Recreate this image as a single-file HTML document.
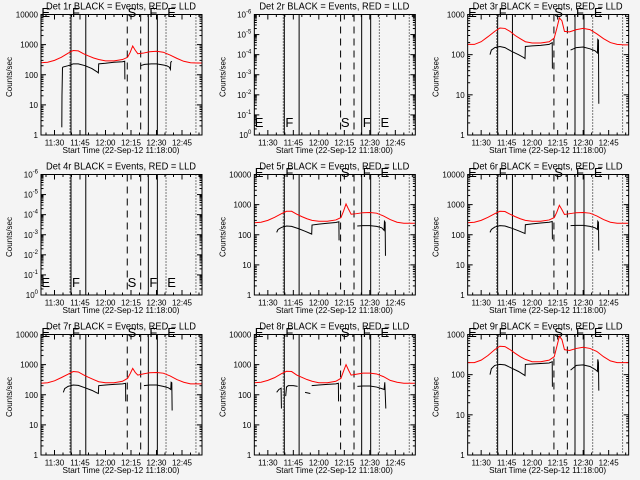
<!DOCTYPE html>
<html><head><meta charset="utf-8"><style>
html,body{margin:0;padding:0;background:#f4f4f4;}
svg{display:block;font-family:"Liberation Sans",sans-serif;}
</style></head><body>
<svg id="chart" width="640" height="480" viewBox="0 0 640 480" xmlns="http://www.w3.org/2000/svg">
<rect x="0" y="0" width="640" height="480" fill="#f4f4f4"/>
</svg>
<script>
// ---- data (minutes after 11:00) ----
const xTickMinutes = [30,45,60,75,90,105];
const xTickLabels = ["11:30","11:45","12:00","12:15","12:30","12:45"];
const solidLines = [39.7,48.4,85.2,90.5];
const dashedLines = [72.8,80.7];
const dottedLines = [39.1,95.6,113.2];
const phaseLetters = ["E","F","S","F","E"];
const phaseLetterMinutes = [22.3,40.3,73.0,85.8,96.3];
const redT = [22,26,30,34,38,41,44,47,50,53,56,60,65,70,73,74.5,76,77.5,79,82,86,90,94,98,102,106,110,114,116.5];
const red1 = [250,260,300,380,520,640,620,500,420,360,320,290,290,320,380,550,900,650,500,520,580,600,560,450,350,280,250,245,245];
const red3 = [180,180,210,280,380,460,450,380,300,250,210,195,195,210,260,450,820,700,380,370,420,450,420,330,250,200,180,175,175];
const red5 = [250,260,300,380,500,600,600,480,400,340,300,280,280,310,370,600,1050,700,480,500,540,550,520,420,320,260,240,240,240];
const red6 = [250,260,300,380,500,600,590,480,400,340,300,280,280,310,370,560,950,680,470,500,540,550,520,420,320,260,240,240,240];
const red7 = [240,250,290,370,480,590,570,460,380,320,270,250,250,280,350,500,750,550,450,490,540,550,520,420,320,260,230,230,230];
const red8 = [250,260,300,370,500,600,590,450,380,320,280,250,250,280,350,600,1000,650,450,480,520,520,490,400,300,260,240,240,240];
const red9 = [200,200,230,300,420,510,500,420,340,280,240,210,210,230,280,500,900,750,420,400,450,480,450,380,280,220,200,200,200];
const b1T = [34.3,34.4,34.7,35,38,41,44,48,52,55,55.8,56,60,65,70,71.3,71.4,76,80.5,83,87,90,94,96,97.5,98.2,98.4,99];
const b1V = [1.8,20,170,180,200,230,230,200,160,125,115,230,240,260,270,280,70,null,200,220,230,230,210,200,180,150,260,280];
const bT = [35.2,36,38,41,44,48,52,55,55.8,56,60,65,70,71.8,71.9,76,82.6,86,90,94,97,98.4,98.6,99,99.2];
const b3V = [100,130,150,160,150,120,100,85,80,160,165,170,180,200,45,null,130,150,155,140,125,110,240,230,6];
const b5V = [120,150,175,195,190,160,130,110,105,210,225,240,255,270,65,null,195,200,200,190,170,140,280,260,20];
const b6V = [120,150,180,200,195,165,135,115,110,215,230,245,260,275,70,null,200,205,205,190,170,150,280,260,30];
const b7V = [120,160,190,210,205,170,140,115,110,200,210,220,230,240,60,null,200,210,210,190,170,150,260,250,30];
const b9V = [100,140,170,180,175,145,120,100,95,180,185,190,195,210,50,null,130,170,175,160,135,120,240,200,40];
const b8T = [35.2,36.5,37.8,38,39,40.5,41,42,45,47.5,50,51.9,55,55.5,55.8,60,65,70,71.5,71.6,76,82.7,86,90,94,97,98.4,98.8,99.4];
const b8V = [120,150,165,35,null,90,180,200,200,190,null,120,110,null,200,210,220,230,240,60,null,190,195,195,180,160,150,260,35];

const panels = [
 {det:1,empty:false,dec:4,red:red1,bt:b1T,bv:b1V},
 {det:2,empty:true},
 {det:3,empty:false,dec:3,red:red3,bt:bT,bv:b3V},
 {det:4,empty:true},
 {det:5,empty:false,dec:4,red:red5,bt:bT,bv:b5V},
 {det:6,empty:false,dec:4,red:red6,bt:bT,bv:b6V},
 {det:7,empty:false,dec:4,red:red7,bt:bT,bv:b7V},
 {det:8,empty:false,dec:4,red:red8,bt:b8T,bv:b8V},
 {det:9,empty:false,dec:3,red:red9,bt:bT,bv:b9V}
];

const NS = "http://www.w3.org/2000/svg";
const svg = document.getElementById("chart");
const X0=41, X1=202, Y0=14.5, Y1=135;
function xs(m){ return 54.5 + (m-30)*1.7; }
function mk(tag, attrs, parent){ const e=document.createElementNS(NS,tag); for(const k in attrs) e.setAttribute(k,attrs[k]); parent.appendChild(e); return e; }

panels.forEach((p,i)=>{
  const col=i%3, row=Math.floor(i/3);
  const g = mk("g",{transform:`translate(${(col*213.33).toFixed(2)},${row*160})`},svg);
  
  
  const dec = p.empty ? 6 : p.dec;
  const ys = v => Y1 - Math.log10(v)/dec*(Y1-Y0);
  const ysEmpty = k => Y1 - k/6*(Y1-Y0);
  const clipId = 'clip'+i;
  const cp = mk("clipPath",{id:clipId},g); mk("rect",{x:X0,y:Y0,width:X1-X0,height:Y1-Y0},cp);

  // phase letters (drawn first, under title)
  phaseLetters.forEach((L,j)=>{
    const lt = mk("text",{x:xs(phaseLetterMinutes[j]),y:p.empty?127:17,"font-size":13,fill:"#000"},g);
    lt.textContent = L;
    
    
  });

  const t = mk("text",{x:121,y:9.5,"font-size":10,"text-anchor":"middle",textLength:150,lengthAdjust:"spacingAndGlyphs",fill:"#000"},g);
  t.textContent = `Det ${p.det}r BLACK = Events, RED = LLD`;
  
  

  const yt = mk("text",{x:0,y:0,"font-size":8,"text-anchor":"middle",transform:"translate(12,77) rotate(-90)",fill:"#000"},g);
  yt.textContent = "Counts/sec";
  
  

  const xt = mk("text",{x:121,y:153,"font-size":8.5,"text-anchor":"middle",textLength:117,lengthAdjust:"spacingAndGlyphs",fill:"#000"},g);
  xt.textContent = "Start Time (22-Sep-12 11:18:00)";
  
  

  xTickMinutes.forEach((m,j)=>{
    const x=xs(m);
    mk("line",{x1:x,y1:Y1,x2:x,y2:Y1-5,stroke:"#000","stroke-width":1},g);
    mk("line",{x1:x,y1:Y0,x2:x,y2:Y0+5,stroke:"#000","stroke-width":1},g);
    const tl = mk("text",{x:x,y:145.5,"font-size":8,"text-anchor":"middle",fill:"#000"},g);
    tl.textContent = xTickLabels[j];
    
    
  });
  for(let m=25;m<=115;m+=5){ if(m%15===0) continue; const x=xs(m);
    mk("line",{x1:x,y1:Y1,x2:x,y2:Y1-2.5,stroke:"#000","stroke-width":1},g);
    mk("line",{x1:x,y1:Y0,x2:x,y2:Y0+2.5,stroke:"#000","stroke-width":1},g); }

  for(let k=0;k<=dec;k++){
    const y = p.empty ? ysEmpty(k) : ys(Math.pow(10,k));
    mk("line",{x1:X0,y1:y,x2:X0+5,y2:y,stroke:"#000","stroke-width":1},g);
    mk("line",{x1:X1,y1:y,x2:X1-5,y2:y,stroke:"#000","stroke-width":1},g);
    const yl = mk("text",{x:38,y:y+3,"font-size":8,"text-anchor":"end",fill:"#000"},g);
    if(p.empty){
      yl.textContent = "10";
      const sup = mk("tspan",{"font-size":6,dy:-4},yl); sup.textContent = k===0 ? "0" : "-"+k;
    } else {
      yl.textContent = String(Math.pow(10,k));
    }
    
    
    if(k<dec){
      for(let s=2;s<=9;s++){
        const yy = p.empty ? ysEmpty(k+Math.log10(s)) : ys(s*Math.pow(10,k));
        mk("line",{x1:X0,y1:yy,x2:X0+2.5,y2:yy,stroke:"#000","stroke-width":1},g);
        mk("line",{x1:X1,y1:yy,x2:X1-2.5,y2:yy,stroke:"#000","stroke-width":1},g);
      }
    }
  }

  const vl=(m,dash,name)=>{ const x=xs(m); const l=mk("line",{x1:x,y1:Y0,x2:x,y2:Y1,stroke:"#000","stroke-width":1},g); if(dash) l.setAttribute("stroke-dasharray",dash);
    
     };
  solidLines.forEach(m=>vl(m,null,'solid-marker-line'));
  dashedLines.forEach(m=>vl(m,"7,5",'dashed-marker-line'));
  dottedLines.forEach(m=>vl(m,"1,2",'dotted-marker-line'));

  if(!p.empty){
    const rp = redT.map((m,j)=>`${xs(m).toFixed(2)},${ys(p.red[j]).toFixed(2)}`).join(" ");
    const rl = mk("polyline",{points:rp,fill:"none",stroke:"#ff0000","stroke-width":1,"clip-path":`url(#${clipId})`},g);
    
    
    let seg=[];
    const flush=()=>{ if(seg.length>1){ const bl=mk("polyline",{points:seg.join(" "),fill:"none",stroke:"#000","stroke-width":1,"clip-path":`url(#${clipId})`},g);
      
       } seg=[]; };
    p.bt.forEach((m,j)=>{ const v=p.bv[j]; if(v===null){flush();} else seg.push(`${xs(m).toFixed(2)},${ys(v).toFixed(2)}`); });
    flush();
  }

  const fr = mk("rect",{x:X0,y:Y0,width:X1-X0,height:Y1-Y0,fill:"none",stroke:"#000","stroke-width":1},g);
  
  
});
</script>
</body></html>
